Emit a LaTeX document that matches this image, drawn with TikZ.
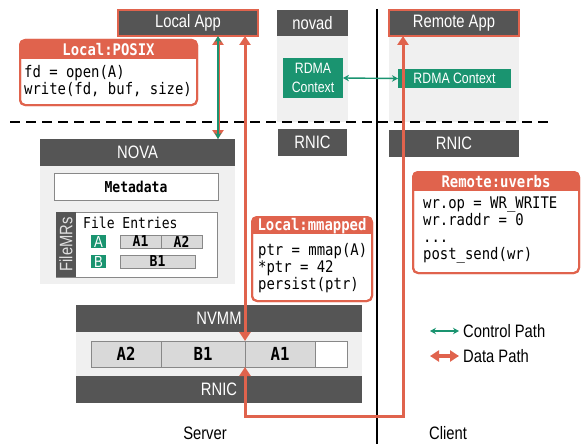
\documentclass[tikz,border=0pt]{standalone}
\usepackage{fontspec}
\setmainfont{Liberation Sans}[FakeStretch=0.82]
\setmonofont{DejaVu Sans Mono}[FakeStretch=0.87]
\usetikzlibrary{arrows.meta,calc}
\definecolor{dgray}{HTML}{555555}
\definecolor{lgray}{HTML}{F0F0F0}
\definecolor{myred}{HTML}{E0634D}
\definecolor{mygreen}{HTML}{1A9470}
\definecolor{blkfill}{HTML}{D9D9D9}
\definecolor{blkdraw}{HTML}{888888}
\newcommand\hdrsz{\fontsize{18}{20}\selectfont}
\newcommand\ctxsz{\fontsize{15}{19}\selectfont}
\newcommand\codesz{\fontsize{16}{17}\selectfont}
\newcommand\smcode{\fontsize{15}{16}\selectfont}
\tikzset{
  hdr/.style={fill=dgray, text=white, font=\hdrsz, inner sep=0pt, outer sep=0pt, anchor=north west},
  redhdr/.style={hdr, draw=myred, line width=2pt},
  bgbox/.style={fill=lgray, inner sep=0pt, outer sep=0pt, anchor=north west},
  ctx/.style={fill=mygreen, text=white, font=\ctxsz, inner sep=0pt, outer sep=0pt, anchor=north west, align=center},
  codebox/.style={draw=myred, line width=2pt, fill=white, rounded corners=5pt, inner sep=0pt, outer sep=0pt, anchor=north west},
  codehdr/.style={text=white, font=\ttfamily\bfseries\codesz, inner sep=0pt},
  code/.style={font=\ttfamily\codesz, align=left, inner sep=0pt, anchor=north west},
  wbox/.style={draw=blkdraw, line width=1pt, fill=white, inner sep=0pt, outer sep=0pt, anchor=north west},
  blk/.style={draw=blkdraw, line width=0.8pt, fill=blkfill, inner sep=0pt, outer sep=0pt, anchor=north west, font=\ttfamily\bfseries\smcode},
  mblk/.style={blk, font=\ttfamily\bfseries\fontsize{18}{20}\selectfont},
  tag/.style={fill=mygreen, text=white, font=\fontsize{16}{18}\selectfont, inner sep=0pt, outer sep=0pt, anchor=north west, minimum width=15pt, minimum height=13pt},
  dpath/.style={draw=myred, line width=3pt, {Triangle[width=11pt,length=9pt]}-{Triangle[width=11pt,length=9pt]}},
  cpath/.style={draw=mygreen, line width=1.4pt, {Stealth[width=6.5pt,length=6pt]}-{Stealth[width=6.5pt,length=6pt]}},
  lbl/.style={font=\hdrsz, inner sep=0pt}
}
\begin{document}
\begin{tikzpicture}[x=1pt,y=-1pt]
\useasboundingbox (0,0) rectangle (581,444);

% ---------- top row ----------
\node[redhdr, minimum width=140pt, minimum height=26pt] (la) at (118,10) {Local App};

\node[hdr, minimum width=71pt, minimum height=26pt] (nv) at (277,10) {novad};
\node[bgbox, minimum width=71pt, minimum height=86pt] (nvbg) at (277,36) {};
\node[ctx, minimum width=60pt, minimum height=40pt] (rc1) at (283,58) {RDMA\\Context};
\node[hdr, minimum width=69pt, minimum height=27pt] (nvr) at (278,129) {RNIC};

\node[bgbox, minimum width=130pt, minimum height=86pt] (rabg) at (389,36) {};
\node[redhdr, minimum width=130pt, minimum height=26pt] (ra) at (389,10) {Remote App};
\node[ctx, minimum width=113pt, minimum height=19pt] (rc2) at (398,69) {RDMA Context};
\node[hdr, minimum width=130pt, minimum height=27pt] (rr) at (389,130) {RNIC};

% ---------- NOVA ----------
\node[hdr, minimum width=195pt, minimum height=27pt] (nova) at (40,139) {NOVA};
\node[bgbox, minimum width=195pt, minimum height=118pt] (novabg) at (40,166) {};
\node[wbox, minimum width=164pt, minimum height=27pt, font=\ttfamily\bfseries\smcode] (meta) at (54,173) {Metadata};
\node[wbox, minimum width=161pt, minimum height=65pt] (fe) at (56,212) {};
\node[fill=dgray, inner sep=0pt, outer sep=0pt, anchor=north west, minimum width=20pt, minimum height=65pt] (fmr) at (56,212) {};
\node[rotate=90, text=white!88!black, font=\fontsize{18}{20}\selectfont, inner sep=0pt] (fmrt) at (fmr.center) {FileMRs};
\node[font=\ttfamily\smcode, anchor=west, inner sep=0pt] (fet) at (83,223) {File Entries};
\node[tag] (ta) at (91,235) {A};
\node[tag] (tb) at (91,255) {B};
\node[blk, minimum width=41pt, minimum height=13pt] (ea1) at (120,235) {A1};
\node[blk, minimum width=41pt, minimum height=13pt] (ea2) at (161,235) {A2};
\node[blk, minimum width=75pt, minimum height=13pt] (eb1) at (120,255) {B1};

% ---------- NVMM ----------
\node[hdr, minimum width=286pt, minimum height=27pt] (nvmm) at (76,305) {NVMM};
\node[bgbox, minimum width=286pt, minimum height=44pt] (nvmmbg) at (76,332) {};
\node[hdr, minimum width=286pt, minimum height=27pt] (rnic) at (76,376) {RNIC};
\node[mblk, minimum width=70pt, minimum height=26pt] (ma2) at (91,341) {A2};
\node[mblk, minimum width=84pt, minimum height=26pt] (mb1) at (161,341) {B1};
\node[mblk, minimum width=70pt, minimum height=26pt] (ma1) at (245,341) {A1};
\node[wbox, minimum width=32pt, minimum height=26pt] (mfree) at (315,341) {};

% ---------- separators ----------
\coordinate (dl) at (10,122);
\coordinate (dr) at (548,122);
\draw[line width=1.5pt, dash pattern=on 10pt off 6pt] (dl) -- (dr);
\coordinate (vt) at (377,9);
\coordinate (vb) at (377,444);
\draw[line width=1.6pt] (vt) -- (vb);

% ---------- paths ----------
\coordinate (bend) at (320,416);
\draw[dpath] ([xshift=100pt]la.south west) -- ([xshift=100pt]la.south west |- nova.north);
\draw[cpath] ([xshift=100pt]la.south west) -- ([xshift=100pt]la.south west |- nova.north);
\draw[dpath] (ma1.north west |- la.south) -- (ma1.north west);
\draw[dpath] ([xshift=14pt]ra.south west) |- (bend) -| (ma1.south west);
\draw[cpath] (rc1.east) -- (rc2.west);

% ---------- code boxes ----------
\node[codebox, minimum width=177pt, minimum height=65pt] (posix) at (20,40) {};
\begin{scope}
  \clip[rounded corners=5pt] (posix.north west) rectangle (posix.south east);
  \fill[myred] (posix.north west) rectangle ([yshift=-19pt]posix.north east);
\end{scope}
\draw[myred, line width=2pt, rounded corners=5pt] (posix.north west) rectangle (posix.south east);
\node[codehdr] (posixh) at ($(posix.north)+(0,-10pt)$) {Local:POSIX};
\node[code] (posixc) at (24,65) {fd = open(A)\\write(fd, buf, size)};

\node[codebox, minimum width=120pt, minimum height=84pt] (mm) at (252,217) {};
\begin{scope}
  \clip[rounded corners=5pt] (mm.north west) rectangle (mm.south east);
  \fill[myred] (mm.north west) rectangle ([yshift=-17pt]mm.north east);
\end{scope}
\draw[myred, line width=2pt, rounded corners=5pt] (mm.north west) rectangle (mm.south east);
\node[codehdr] (mmh) at ($(mm.north)+(0,-9pt)$) {Local:mmapped};
\node[code] (mmc) at (258,243) {ptr = mmap(A)\\*ptr = 42\\persist(ptr)};

\node[codebox, minimum width=166pt, minimum height=101pt] (uv) at (413,172) {};
\begin{scope}
  \clip[rounded corners=5pt] (uv.north west) rectangle (uv.south east);
  \fill[myred] (uv.north west) rectangle ([yshift=-19pt]uv.north east);
\end{scope}
\draw[myred, line width=2pt, rounded corners=5pt] (uv.north west) rectangle (uv.south east);
\node[codehdr] (uvh) at ($(uv.north)+(0,-10pt)$) {Remote:uverbs};
\node[code] (uvc) at (423,197) {wr.op = WR\_WRITE\\wr.raddr = 0\\...\\post\_send(wr)};

% ---------- legend ----------
\coordinate (lg1a) at (430,331);
\coordinate (lg1b) at (459,331);
\coordinate (lg2a) at (430,356);
\coordinate (lg2b) at (459,356);
\draw[cpath] (lg1a) -- (lg1b);
\draw[dpath, line width=3.5pt] (lg2a) -- (lg2b);
\node[lbl, anchor=west] (lgt1) at (463,331) {Control Path};
\node[lbl, anchor=west] (lgt2) at (463,356) {Data Path};

\node[lbl] (server) at (205,433) {Server};
\node[lbl] (client) at (448,433) {Client};
\end{tikzpicture}
\end{document}
